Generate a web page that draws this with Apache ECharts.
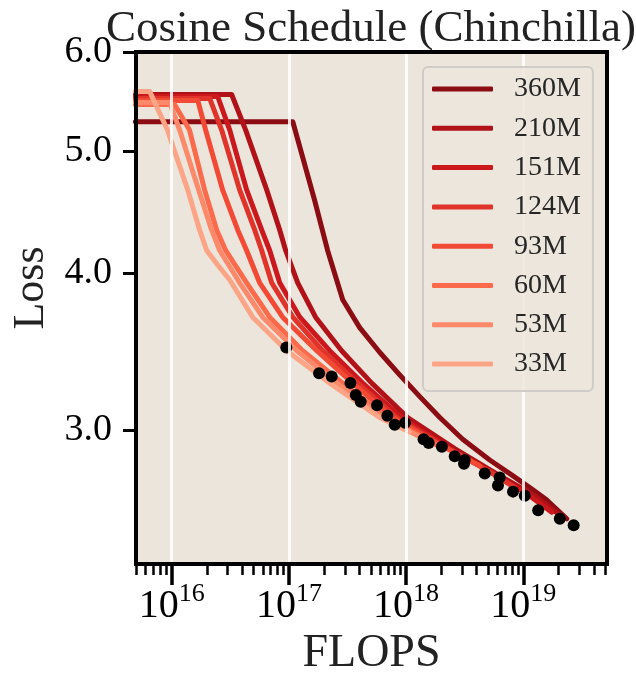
<!DOCTYPE html>
<html>
<head>
<meta charset="utf-8">
<script src="https://cdn.jsdelivr.net/npm/echarts@6/dist/echarts.min.js"></script>
<style>
  html, body { margin: 0; padding: 0; background: #ffffff; }
  #chart { width: 636px; height: 675px; }
</style>
</head>
<body>
<div id="chart"></div>
<script>
// Model sizes, in legend order (largest first).
const modelSizes = ['360M', '210M', '151M', '124M', '93M', '60M', '53M', '33M'];
const lineColors = ['#8c0c13', '#b01217', '#cb181d', '#e0332a', '#f24a35', '#fb6b4b', '#fc8969', '#fca486'];

// Training curves: [FLOPS, loss]
const curve360M = [[4.9e15, 5.28], [1.08e17, 5.28], [1.66e17, 4.57], [2.14e17, 4.17], [2.88e17, 3.81], [4.02e17, 3.62], [5.95e17, 3.46], [8.82e17, 3.32], [1.31e18, 3.19], [1.94e18, 3.07], [3.04e18, 2.95], [5.17e18, 2.84], [8.12e18, 2.76], [1.20e19, 2.69], [1.58e19, 2.64], [2.35e19, 2.55]];
const curve210M = [[4.9e15, 5.55], [3.25e16, 5.55], [4.28e16, 5.20], [6.47e16, 4.66], [8.35e16, 4.33], [9.39e16, 4.17], [1.19e17, 3.93], [1.69e17, 3.69], [2.82e17, 3.47], [5.09e17, 3.27], [1.03e18, 3.07], [2.60e18, 2.90], [6.29e18, 2.76], [1.25e19, 2.66], [2.13e19, 2.56]];
const curve151M = [[4.9e15, 5.53], [2.47e16, 5.53], [3.13e16, 5.20], [4.36e16, 4.66], [5.86e16, 4.33], [6.86e16, 4.17], [8.35e16, 3.93], [1.24e17, 3.69], [2.23e17, 3.47], [4.26e17, 3.27], [9.17e17, 3.07], [2.36e18, 2.90], [5.93e18, 2.76], [1.13e19, 2.66], [1.75e19, 2.58]];
const curve124M = [[4.9e15, 5.51], [2.11e16, 5.51], [2.67e16, 5.20], [3.80e16, 4.66], [5.11e16, 4.33], [5.86e16, 4.17], [7.13e16, 3.93], [1.08e17, 3.69], [1.94e17, 3.47], [3.86e17, 3.27], [8.31e17, 3.07], [2.14e18, 2.91], [5.17e18, 2.78], [8.45e18, 2.70]];
const curve93M = [[4.9e15, 5.49], [1.67e16, 5.49], [1.95e16, 5.20], [2.72e16, 4.66], [3.66e16, 4.33], [4.36e16, 4.17], [5.63e16, 3.93], [8.85e16, 3.69], [1.73e17, 3.47], [3.50e17, 3.27], [7.69e17, 3.07], [1.94e18, 2.92], [4.25e18, 2.81]];
const curve60M = [[4.9e15, 5.45], [1.06e16, 5.45], [1.42e16, 5.20], [1.91e16, 4.66], [2.42e16, 4.33], [2.89e16, 4.17], [4.36e16, 3.93], [6.86e16, 3.69], [1.31e17, 3.47], [2.88e17, 3.27], [6.83e17, 3.07], [1.94e18, 2.91]];
const curve53M = [[4.9e15, 5.47], [9.6e15, 5.47], [1.17e16, 5.20], [1.60e16, 4.74], [2.19e16, 4.33], [2.57e16, 4.17], [3.80e16, 3.93], [5.98e16, 3.69], [1.17e17, 3.47], [2.56e17, 3.27], [6.31e17, 3.07], [1.44e18, 2.95]];
const curve33M = [[4.9e15, 5.58], [6.5e15, 5.58], [9.2e15, 5.20], [1.37e16, 4.66], [1.73e16, 4.33], [1.99e16, 4.17], [2.47e16, 4.06], [3.13e16, 3.95], [4.91e16, 3.69], [9.6e16, 3.47], [2.23e17, 3.27], [5.95e17, 3.07], [1.07e18, 2.99]];
const curves = [curve360M, curve210M, curve151M, curve124M, curve93M, curve60M, curve53M, curve33M];

// Compute-optimal points: [FLOPS, loss]
const optimalPoints = [[9.5e16, 3.49], [1.81e17, 3.33], [2.32e17, 3.31], [3.35e17, 3.27], [3.72e17, 3.20], [4.10e17, 3.16], [5.65e17, 3.14], [6.92e17, 3.08], [8.0e17, 3.03], [9.8e17, 3.04], [1.41e18, 2.95], [1.56e18, 2.93], [2.02e18, 2.91], [2.60e18, 2.86], [3.16e18, 2.84], [3.12e18, 2.82], [4.69e18, 2.77], [6.29e18, 2.75], [6.08e18, 2.71], [8.17e18, 2.68], [1.03e19, 2.66], [1.34e19, 2.59], [2.05e19, 2.55], [2.69e19, 2.52]];

// Axis ranges and ticks
const xRange = [4.96e15, 5.18e19];
const yRange = [2.347, 6.0];
const xMajorTicks = [1e16, 1e17, 1e18, 1e19];
const xMinorTicks = [5e15, 6e15, 7e15, 8e15, 9e15,
  2e16, 3e16, 4e16, 5e16, 6e16, 7e16, 8e16, 9e16,
  2e17, 3e17, 4e17, 5e17, 6e17, 7e17, 8e17, 9e17,
  2e18, 3e18, 4e18, 5e18, 6e18, 7e18, 8e18, 9e18,
  2e19, 3e19, 4e19, 5e19];
const yTicks = [3, 4, 5, 6];

const FONT = 'Liberation Serif';
const spine = { show: true, lineStyle: { color: '#000', width: 4, cap: 'square' } };

const lineSeries = modelSizes.map((name, i) => ({
  name: name,
  type: 'line',
  xAxisIndex: 0,
  yAxisIndex: 0,
  data: curves[i],
  showSymbol: false,
  symbol: 'none',
  lineStyle: { color: lineColors[i], width: 5, cap: 'round', join: 'round' },
  itemStyle: { color: lineColors[i] },
  z: 2
}));

const option = {
  animation: false,
  grid: { left: 136, top: 52, width: 471, height: 512, show: true, backgroundColor: '#ebe5dc', borderWidth: 0, outerBoundsMode: 'none' },
  graphic: [{
    type: 'text', x: 371, y: 29, z: 10,
    style: { text: 'Cosine Schedule (Chinchilla)', font: '45px "' + FONT + '"', fill: '#222', align: 'center', verticalAlign: 'middle' }
  }],
  legend: {
    orient: 'vertical', left: 423, top: 67,
    data: modelSizes.map(n => ({ name: n, icon: 'roundRect' })),
    itemWidth: 61, itemHeight: 5, itemGap: 11.3,
    padding: [8, 12, 13, 9],
    backgroundColor: 'rgba(236,230,221,0.8)',
    borderColor: '#cfccc7', borderWidth: 2, borderRadius: 5,
    textStyle: { fontFamily: FONT, fontSize: 28, color: '#262626', lineHeight: 28, padding: [0, 0, 0, 16] },
    selectedMode: false, z: 8
  },
  xAxis: [
    {
      type: 'log', logBase: 10, min: xRange[0], max: xRange[1], position: 'bottom', z: 5,
      axisLine: spine,
      axisTick: { show: true, length: 21, lineStyle: { color: '#000', width: 3.5 }, customValues: xMajorTicks },
      axisLabel: {
        customValues: xMajorTicks, margin: 17,
        formatter: v => '{b|10}{s|' + Math.round(Math.log10(v)) + '}',
        rich: {
          b: { fontFamily: FONT, fontSize: 40, color: '#000', lineHeight: 40, padding: [11, 0, 0, 0] },
          s: { fontFamily: FONT, fontSize: 26, color: '#000', lineHeight: 26, verticalAlign: 'top' }
        }
      },
      splitLine: { show: true, lineStyle: { color: 'rgba(255,255,255,0.85)', width: 3 } },
      name: 'FLOPS', nameLocation: 'middle', nameGap: 58,
      nameTextStyle: { fontFamily: FONT, fontSize: 46, color: '#222' }
    },
    {
      type: 'log', logBase: 10, min: xRange[0], max: xRange[1], position: 'bottom', z: 5,
      axisLine: { show: false },
      axisTick: { show: true, length: 11, lineStyle: { color: '#000', width: 2.5 }, customValues: xMinorTicks },
      axisLabel: { show: false },
      splitLine: { show: false }
    },
    {
      type: 'log', logBase: 10, min: xRange[0], max: xRange[1], position: 'top', z: 5,
      axisLine: spine, axisTick: { show: false }, axisLabel: { show: false }, splitLine: { show: false }
    }
  ],
  yAxis: [
    {
      type: 'log', logBase: 10, min: yRange[0], max: yRange[1], position: 'left', z: 5,
      axisLine: spine,
      axisTick: { show: true, length: 13, lineStyle: { color: '#000', width: 3 }, customValues: yTicks },
      axisLabel: { customValues: yTicks, formatter: v => Number(v).toFixed(1), margin: 24, fontFamily: FONT, fontSize: 38, color: '#000' },
      splitLine: { show: false },
      name: 'Loss', nameLocation: 'middle', nameGap: 83, nameRotate: 90,
      nameTextStyle: { fontFamily: FONT, fontSize: 44, color: '#222', padding: [0, 0, 0, 40] }
    },
    {
      type: 'log', logBase: 10, min: yRange[0], max: yRange[1], position: 'right', z: 5,
      axisLine: spine, axisTick: { show: false }, axisLabel: { show: false }, splitLine: { show: false }
    }
  ],
  series: lineSeries.concat([{
    name: 'optimal',
    type: 'scatter',
    xAxisIndex: 0, yAxisIndex: 0,
    data: optimalPoints,
    symbol: 'circle', symbolSize: 12,
    itemStyle: { color: '#000', opacity: 1 },
    z: 4
  }])
};

const chart = echarts.init(document.getElementById('chart'), null, { renderer: 'canvas', width: 636, height: 675 });
chart.setOption(option);
</script>
</body>
</html>
